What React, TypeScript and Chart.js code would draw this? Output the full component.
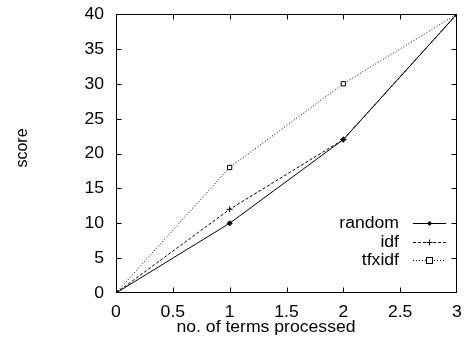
import React, { useEffect, useRef } from "react";
import { Chart, registerables } from "chart.js";

Chart.register(...registerables);

const xValues = [0, 1, 2, 3];
const randomScores = [0, 10, 22, 40];
const idfScores = [0, 12, 22, 40];
const tfxidfScores = [0, 18, 30, 40];
const seriesNames = ["random", "idf", "tfxidf"];
const xTitle = "no. of terms processed";
const yTitle = "score";

const FONT = "16px 'Liberation Sans', Arial, Helvetica, sans-serif";
const STRETCH = 1.1;

function txt(ctx: any, s: string, x: number, y: number, align: "left" | "right" | "center") {
  ctx.save();
  ctx.translate(x, y);
  ctx.scale(STRETCH, 1);
  ctx.textAlign = align;
  ctx.textBaseline = "middle";
  ctx.fillText(s, 0, 0);
  ctx.restore();
}

const fmt = (v: number) => String(v);

const framePlugin = {
  id: "frame",
  afterDraw(chart: any) {
    const ctx = chart.ctx;
    const { left, right, top, bottom } = chart.chartArea;
    const xs = chart.scales.x;
    const ys = chart.scales.y;
    const L = left + 0.5, R = right - 0.5, T = top + 0.5, B = bottom - 0.5;
    const clamp = (v: number, a: number, b: number) => Math.min(Math.max(v, a), b);
    ctx.save();
    ctx.strokeStyle = "#000";
    ctx.fillStyle = "#000";
    ctx.lineWidth = 1;
    ctx.setLineDash([]);
    ctx.strokeRect(L, T, R - L, B - T);
    ctx.beginPath();
    const tl = 5;
    xs.ticks.forEach((t: any) => {
      const px = clamp(Math.round(xs.getPixelForValue(t.value)) + 0.5, L, R);
      ctx.moveTo(px, B);
      ctx.lineTo(px, B - tl);
      ctx.moveTo(px, T);
      ctx.lineTo(px, T + tl);
    });
    ys.ticks.forEach((t: any) => {
      const py = clamp(Math.round(ys.getPixelForValue(t.value)) + 0.5, T, B);
      ctx.moveTo(L, py);
      ctx.lineTo(L + tl, py);
      ctx.moveTo(R, py);
      ctx.lineTo(R - tl, py);
    });
    ctx.stroke();

    ctx.font = FONT;
    xs.ticks.forEach((t: any) => {
      txt(ctx, fmt(t.value), xs.getPixelForValue(t.value), 313, "center");
    });
    ys.ticks.forEach((t: any) => {
      txt(ctx, fmt(t.value), 104, ys.getPixelForValue(t.value) + 0.5, "right");
    });

    txt(ctx, xTitle, 266, 328, "center");
    ctx.save();
    ctx.translate(23, 148);
    ctx.rotate(-Math.PI / 2);
    ctx.textAlign = "center";
    ctx.textBaseline = "middle";
    ctx.fillText(yTitle, 0, 0);
    ctx.restore();

    const rows = [223, 242, 260];
    chart.data.datasets.forEach((ds: any, i: number) => {
      const y = rows[i];
      txt(ctx, ds.label, 399, y + 1, "right");
      ctx.beginPath();
      ctx.setLineDash(ds.borderDash || []);
      ctx.moveTo(413, y + 0.5);
      ctx.lineTo(446, y + 0.5);
      ctx.stroke();
      ctx.setLineDash([]);
      const cx = 429.5;
      const r = ds.pointRadius;
      ctx.beginPath();
      if (ds.pointStyle === "rectRot") {
        ctx.moveTo(cx, y + 0.5 - r);
        ctx.lineTo(cx + r, y + 0.5);
        ctx.lineTo(cx, y + 0.5 + r);
        ctx.lineTo(cx - r, y + 0.5);
        ctx.closePath();
        ctx.fill();
      } else if (ds.pointStyle === "cross") {
        ctx.moveTo(cx - r, y + 0.5);
        ctx.lineTo(cx + r, y + 0.5);
        ctx.moveTo(cx, y + 0.5 - r);
        ctx.lineTo(cx, y + 0.5 + r);
        ctx.stroke();
      } else {
        ctx.fillStyle = "#fff";
        ctx.fillRect(cx - r, y - r + 0.5, 2 * r, 2 * r);
        ctx.fillStyle = "#000";
        ctx.strokeRect(cx - r, y - r + 0.5, 2 * r, 2 * r);
      }
    });
    ctx.restore();
  },
};

export default function App() {
  const ref = useRef<HTMLCanvasElement>(null);
  useEffect(() => {
    const mk = (vals: number[]) => xValues.map((x, i) => ({ x, y: vals[i] }));
    const chart = new Chart(ref.current!, {
      type: "line",
      data: {
        datasets: [
          {
            label: seriesNames[0],
            data: mk(randomScores),
            borderColor: "#000",
            backgroundColor: "#000",
            borderWidth: 1,
            pointStyle: "rectRot",
            pointRadius: 2.5,
            pointBorderWidth: 1,
          },
          {
            label: seriesNames[1],
            data: mk(idfScores),
            borderColor: "#000",
            backgroundColor: "#000",
            borderWidth: 1,
            borderDash: [3, 2],
            pointStyle: "cross",
            pointRadius: 3,
            pointBorderWidth: 1,
          },
          {
            label: seriesNames[2],
            data: mk(tfxidfScores),
            borderColor: "#000",
            backgroundColor: "#fff",
            borderWidth: 1,
            borderDash: [1, 2],
            pointStyle: "rect",
            pointRadius: 3,
            pointBorderWidth: 1,
          },
        ],
      } as any,
      options: {
        animation: false,
        responsive: false,
        events: [],
        layout: { padding: { left: 0, top: 14, right: 9, bottom: 0 } },
        plugins: { legend: { display: false }, tooltip: { enabled: false } },
        scales: {
          x: {
            type: "linear",
            min: 0,
            max: 3,
            grid: { display: false, drawTicks: false },
            border: { display: false },
            ticks: { stepSize: 0.5, display: false },
            afterFit: (s: any) => {
              s.height = 51;
            },
          },
          y: {
            min: 0,
            max: 40,
            grid: { display: false, drawTicks: false },
            border: { display: false },
            ticks: { stepSize: 5, display: false },
            afterFit: (s: any) => {
              s.width = 116;
            },
          },
        },
      } as any,
      plugins: [framePlugin],
    });
    return () => chart.destroy();
  }, []);
  return (
    <div style={{ position: "absolute", left: 0, top: 0, width: 466, height: 344, background: "#fff" }}>
      <canvas ref={ref} width={466} height={344} />
    </div>
  );
}
